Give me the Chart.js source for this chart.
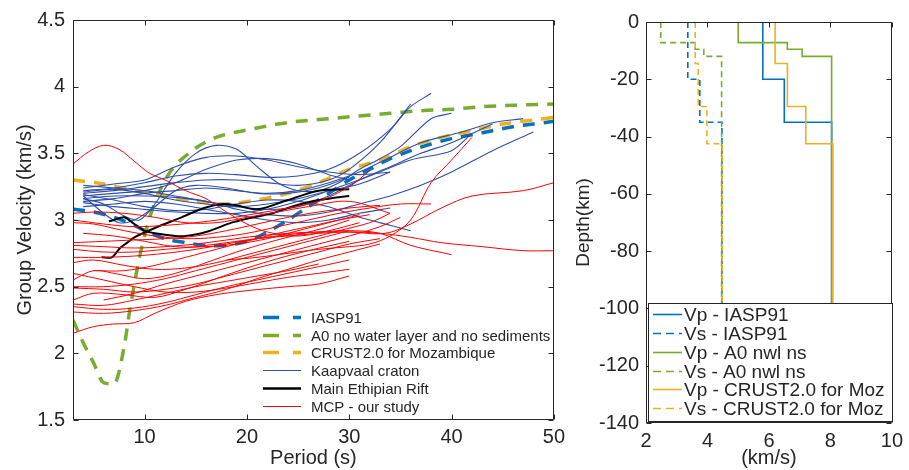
<!DOCTYPE html>
<html>
<head>
<meta charset="utf-8">
<script src="https://cdn.jsdelivr.net/npm/chart.js@4.4.1/dist/chart.umd.min.js"></script>
<style>
html, body { margin: 0; padding: 0; background: #fff; }
#wrap { position: relative; width: 909px; height: 470px; }
#left { position: absolute; left: 0; top: 0; }
#right { position: absolute; left: 570px; top: 0; }
</style>
</head>
<body>
<div id="wrap">
<canvas id="left" width="570" height="470"></canvas>
<canvas id="right" width="339" height="470"></canvas>
</div>
<script>
// ---- left panel : group velocity dispersion ----
const periodTicks = [10, 20, 30, 40, 50]
const velTicks = [1.5, 2, 2.5, 3, 3.5, 4, 4.5]

const iaspP = [3, 5, 7, 9, 10, 12, 14, 16, 18, 20, 22, 24, 26, 28, 30, 32, 34, 36, 38, 40, 42, 44, 46, 48, 50]
const iaspV = [3.08, 3.06, 3.02, 2.96, 2.92, 2.86, 2.83, 2.81, 2.81, 2.84, 2.91, 3.00, 3.10, 3.20, 3.30, 3.38, 3.46, 3.52, 3.57, 3.61, 3.64, 3.67, 3.70, 3.72, 3.74]

const a0P = [3, 4, 5, 6, 7, 8, 8.5, 9, 9.5, 10, 10.5, 11, 12, 13, 14, 15, 17, 19, 21, 23, 25, 28, 31, 34, 37, 40, 43, 46, 50]
const a0V = [2.25, 2.08, 1.93, 1.78, 1.77, 2.05, 2.30, 2.52, 2.72, 2.88, 3.02, 3.13, 3.30, 3.41, 3.48, 3.54, 3.62, 3.66, 3.69, 3.72, 3.74, 3.76, 3.78, 3.80, 3.82, 3.83, 3.85, 3.86, 3.87]

const crustP = [3, 6, 9, 12, 15, 18, 21, 24, 27, 30, 33, 36, 39, 42, 45, 48, 50]
const crustV = [3.30, 3.27, 3.22, 3.18, 3.14, 3.12, 3.15, 3.20, 3.28, 3.38, 3.45, 3.55, 3.62, 3.67, 3.72, 3.75, 3.77]

// Kaapvaal craton curves, [period, velocity]
const kaapvaal = [
    [[4, 3.22], [7, 3.24], [10, 3.28], [13, 3.33], [16, 3.35], [19, 3.34], [22, 3.32], [25, 3.33], [28, 3.38], [31, 3.50], [34, 3.68], [36, 3.85], [38, 3.95]],
    [[4, 3.20], [7, 3.22], [10, 3.25], [13, 3.28], [16, 3.30], [19, 3.30], [22, 3.28], [25, 3.26], [28, 3.30], [30, 3.38], [33, 3.58], [36, 3.87]],
    [[4, 3.16], [6, 3.12], [8, 3.03], [9.5, 3.00], [11, 3.12], [13, 3.35], [15, 3.50], [17, 3.56], [19, 3.53], [21, 3.40], [23, 3.28], [25, 3.22], [27, 3.22], [29, 3.28], [31, 3.38], [33, 3.46], [35, 3.55], [38, 3.76], [40, 3.80]],
    [[4, 3.24], [7, 3.27], [10, 3.30], [13, 3.40], [16, 3.47], [19, 3.48], [22, 3.45], [25, 3.40], [28, 3.36], [31, 3.34], [34, 3.36]],
    [[4, 3.18], [7, 3.20], [10, 3.22], [13, 3.28], [16, 3.38], [19, 3.45], [22, 3.46], [25, 3.42], [28, 3.34], [30, 3.30]],
    [[4, 3.14], [7, 3.16], [10, 3.20], [13, 3.22], [16, 3.24], [19, 3.22], [22, 3.20], [25, 3.22], [28, 3.28], [31, 3.36], [34, 3.47], [37, 3.58], [41, 3.66], [44, 3.73], [47, 3.76]],
    [[4, 3.16], [7, 3.18], [10, 3.18], [13, 3.17], [16, 3.14], [19, 3.10], [22, 3.08], [25, 3.10], [28, 3.18], [31, 3.30], [34, 3.40], [37, 3.50], [40, 3.58], [44, 3.72]],
    [[4, 3.21], [7, 3.23], [10, 3.20], [13, 3.15], [16, 3.12], [19, 3.10], [22, 3.12], [25, 3.16], [28, 3.22], [31, 3.27], [34, 3.36]],
    [[4, 3.13], [7, 3.10], [10, 3.08], [13, 3.06], [16, 3.05], [19, 3.05], [22, 3.08], [25, 3.14], [28, 3.22], [32, 3.33], [36, 3.45], [40, 3.52], [42, 3.65]],
    [[4, 3.19], [7, 3.15], [10, 3.10], [13, 3.07], [16, 3.08], [19, 3.12], [22, 3.15], [25, 3.14], [28, 3.10], [31, 3.02], [34, 2.96], [36, 2.92]],
    [[4, 3.26], [7, 3.24], [10, 3.22], [13, 3.18], [16, 3.14], [19, 3.08], [22, 3.04], [25, 3.03], [28, 3.06], [31, 3.12], [34, 3.18], [37, 3.26], [40, 3.36], [44, 3.52], [48, 3.66]],
    [[4, 3.18], [6, 3.05], [7.5, 2.98], [9, 3.00], [11, 3.10], [13, 3.22], [15, 3.26], [18, 3.24], [21, 3.20], [24, 3.20], [27, 3.24], [30, 3.32]],
    [[4, 3.10], [7, 3.12], [10, 3.14], [13, 3.12], [16, 3.08], [19, 3.04], [22, 3.00], [25, 2.98], [28, 3.00], [31, 3.05], [34, 3.09]]
]

// Main Ethiopian Rift
const mer = [
    [[6.5, 2.99], [7, 3.00], [8, 3.02], [9, 2.97], [10, 2.92], [11, 2.90], [13, 2.88], [14, 2.88], [16, 2.91], [18.5, 2.98], [20, 3.01], [22.5, 3.05], [24, 3.09], [26.4, 3.14], [28, 3.16], [30, 3.18]],
    [[5.8, 2.72], [6.8, 2.72], [7.6, 2.79], [8.3, 2.83], [9, 2.87], [11, 2.94], [13.6, 3.02], [15.8, 3.09], [17.7, 3.12], [19, 3.11], [21, 3.08], [24, 3.15], [27, 3.22], [30, 3.23]]
]

// MCP - our study
const mcp = [
    [[3, 3.42], [4.5, 3.51], [6, 3.56], [7.5, 3.53], [9, 3.44], [10.5, 3.35], [12, 3.30], [14, 3.22], [16, 3.16], [18, 3.06], [20, 2.97], [22, 2.91], [25, 2.88], [28, 2.92], [31, 2.98]],
    [[3, 3.05], [5, 3.06], [8, 3.05], [11, 3.02], [14, 2.98], [17, 2.98], [20, 3.02], [23, 3.06], [26, 3.10], [30, 3.14], [34, 3.05]],
    [[3, 3.00], [6, 2.97], [9, 2.95], [12, 2.96], [15, 2.98], [18, 3.01], [21, 3.05], [24, 3.09], [27, 3.14], [30, 3.25], [32, 3.37]],
    [[3, 2.98], [5, 2.97], [8, 2.92], [11, 2.88], [14, 2.86], [17, 2.87], [20, 2.90], [23, 2.95], [26, 3.00], [29, 3.05], [32, 3.09], [35, 3.12], [38, 3.12]],
    [[3, 2.83], [6, 2.84], [9, 2.85], [12, 2.86], [15, 2.88], [18, 2.92], [21, 2.97], [24, 3.02], [27, 3.06], [30, 3.09], [33, 3.11]],
    [[3, 2.81], [6, 2.80], [9, 2.79], [12, 2.80], [15, 2.82], [18, 2.85], [21, 2.88], [24, 2.90], [27, 2.91], [30, 2.91], [33.5, 2.90], [36, 2.97], [39, 3.09], [42, 3.18], [47, 3.22], [50, 3.28]],
    [[3, 2.78], [6, 2.76], [9, 2.76], [12, 2.78], [15, 2.80], [18, 2.83], [21, 2.86], [24, 2.88], [27, 2.90], [30, 2.91], [33, 2.90], [36, 2.87], [39, 2.83], [43, 2.80], [47, 2.77], [50, 2.77]],
    [[3, 2.72], [6, 2.72], [9, 2.73], [12, 2.75], [15, 2.78], [18, 2.82], [21, 2.86], [24, 2.89], [27, 2.91], [30, 2.92], [33, 2.90], [36, 2.81], [40, 2.74]],
    [[3, 2.68], [5, 2.70], [8, 2.66], [11, 2.63], [14, 2.64], [17, 2.68], [20, 2.74], [23, 2.80], [26, 2.86], [29, 2.92], [32, 2.98], [34, 3.05]],
    [[3, 2.55], [5, 2.62], [7, 2.60], [10, 2.56], [13, 2.60], [16, 2.68], [19, 2.76], [22, 2.83], [25, 2.89], [28, 2.95], [30, 3.00]],
    [[3, 2.50], [6, 2.50], [9, 2.52], [12, 2.56], [15, 2.62], [18, 2.68], [21, 2.74], [24, 2.80], [27, 2.86], [30, 2.92]],
    [[3, 2.49], [6, 2.48], [9, 2.46], [12, 2.48], [15, 2.52], [18, 2.58], [21, 2.64], [24, 2.70], [27, 2.76], [30, 2.82], [33, 2.86]],
    [[3, 2.40], [5, 2.45], [8, 2.44], [11, 2.42], [14, 2.48], [17, 2.56], [20, 2.64], [23, 2.71], [26, 2.77], [30, 2.84]],
    [[3, 2.37], [6, 2.36], [9, 2.40], [12, 2.45], [15, 2.50], [18, 2.54], [21, 2.58], [24, 2.62], [27, 2.67]],
    [[3, 2.35], [6, 2.33], [9, 2.34], [12, 2.38], [15, 2.44], [18, 2.50], [21, 2.55], [24, 2.60], [27, 2.65], [30, 2.70]],
    [[3, 2.31], [6, 2.30], [9, 2.32], [12, 2.36], [15, 2.42], [18, 2.48], [21, 2.56], [24, 2.63], [27, 2.70], [30, 2.76], [33, 2.82]],
    [[3, 2.15], [5, 2.20], [7, 2.22], [9, 2.23], [11, 2.30], [14, 2.39], [17, 2.44], [20, 2.47], [24, 2.50], [27, 2.52], [30, 2.58]],
    [[5, 2.62], [8, 2.62], [11, 2.66], [14, 2.72], [17, 2.78], [20, 2.84], [23, 2.90], [26, 2.95], [29, 3.00], [32, 3.04]],
    [[6, 2.40], [9, 2.45], [12, 2.52], [15, 2.58], [18, 2.64], [21, 2.70], [24, 2.76], [27, 2.82], [30, 2.88], [33, 2.95], [35, 3.02]],
    [[18, 2.70], [21, 2.72], [24, 2.75], [27, 2.78], [30, 2.80], [32, 2.82], [34, 2.88], [36, 3.00], [38, 3.28], [40, 3.45], [42, 3.62]],
    [[4, 2.90], [7, 2.88], [10, 2.84], [13, 2.80], [16, 2.80], [19, 2.82], [22, 2.86], [25, 2.92], [28, 2.98], [31, 3.04]],
    [[3, 2.60], [6, 2.55], [9, 2.50], [12, 2.46], [15, 2.46], [18, 2.49], [21, 2.53], [24, 2.57], [27, 2.60], [30, 2.63]]
]

// ---- right panel : velocity models (depth in km, velocity in km/s) ----
const depthTicks = [-140, -120, -100, -80, -60, -40, -20, 0]
const kmsTicks = [2, 4, 6, 8, 10]

const iaspDepth = [0, 20, 35, 140]
const iaspVp = [5.8, 6.5, 8.04]
const iaspVs = [3.36, 3.75, 4.47]

const a0Depth = [0, 7.2, 9.5, 12, 140]
const a0Vp = [5.0, 6.6, 7.08, 8.04]
const a0Vs = [2.48, 3.6, 3.88, 4.46]

const crustDepth = [0, 14.5, 29.5, 42.5, 140]
const crustVp = [6.2, 6.6, 7.2, 8.08]
const crustVs = [3.6, 3.7, 3.98, 4.48]

const blue = '#0072BD'
const green = '#77AC30'
const orange = '#EDB120'
const kaapColor = '#2F4FA8'
const red = '#FF0000'
const axisColor = '#262626'

Chart.defaults.font.family = '"Liberation Sans", Arial, Helvetica, sans-serif'
Chart.defaults.color = axisColor

const toPts = (xs, ys) => xs.map((x, i) => ({ x: x, y: ys[i] }))
const pairPts = arr => arr.map(p => ({ x: p[0], y: p[1] }))

function steps(depths, vel) {
    const pts = []
    vel.forEach((v, i) => {
        pts.push({ x: v, y: -depths[i] })
        pts.push({ x: v, y: -depths[i + 1] })
    })
    return pts
}

// box + inward ticks like matlab axes
const matlabBox = {
    id: 'matlabBox',
    afterDatasetsDraw(chart) {
        const { ctx, chartArea: a, scales } = chart
        ctx.save()
        ctx.strokeStyle = axisColor
        ctx.lineWidth = 1
        ctx.beginPath()
        const L = Math.round(a.left) + 0.5, R = Math.round(a.right) - 0.5
        const T = Math.round(a.top) + 0.5, B = Math.round(a.bottom) - 0.5
        ctx.rect(L, T, R - L, B - T)
        scales.x.ticks.forEach(t => {
            const px = Math.round(scales.x.getPixelForValue(t.value)) + 0.5
            ctx.moveTo(px, B); ctx.lineTo(px, B - 5)
            ctx.moveTo(px, T); ctx.lineTo(px, T + 5)
        })
        scales.y.ticks.forEach(t => {
            const py = Math.round(scales.y.getPixelForValue(t.value)) + 0.5
            ctx.moveTo(L, py); ctx.lineTo(L + 5, py)
            ctx.moveTo(R, py); ctx.lineTo(R - 5, py)
        })
        ctx.stroke()
        ctx.restore()
    }
}

// legend drawn inside the plot area
const inLegend = {
    id: 'inLegend',
    afterDraw(chart, args, opts) {
        const ctx = chart.ctx
        ctx.save()
        if (opts.box) {
            const b = opts.box
            ctx.fillStyle = '#fff'
            ctx.fillRect(b[0], b[1], b[2] - b[0], b[3] - b[1])
            ctx.strokeStyle = axisColor
            ctx.lineWidth = 1
            ctx.strokeRect(b[0] + 0.5, b[1] + 0.5, b[2] - b[0], b[3] - b[1])
        }
        ctx.font = opts.fontSize + 'px ' + Chart.defaults.font.family
        ctx.textBaseline = 'middle'
        opts.entries.forEach((e, i) => {
            const y = Math.round(opts.y + i * opts.rowH) + 0.5
            ctx.strokeStyle = e.color
            ctx.lineWidth = e.width
            ctx.setLineDash(e.dash || [])
            ctx.beginPath()
            ctx.moveTo(opts.x0, y)
            ctx.lineTo(opts.x1, y)
            ctx.stroke()
            ctx.setLineDash([])
            ctx.fillStyle = axisColor
            ctx.fillText(e.label, opts.tx, y + 1)
        })
        ctx.restore()
    }
}

// ---- left chart datasets ----
const leftSets = []
const thickDash = [12, 9]
leftSets.push({ data: toPts(iaspP, iaspV), borderColor: blue, borderWidth: 3.5, borderDash: thickDash, tension: 0.3 })
leftSets.push({ data: toPts(a0P, a0V), borderColor: green, borderWidth: 3.5, borderDash: thickDash, cubicInterpolationMode: 'monotone' })
leftSets.push({ data: toPts(crustP, crustV), borderColor: orange, borderWidth: 3.5, borderDash: thickDash, tension: 0.3 })
kaapvaal.forEach(c => leftSets.push({ data: pairPts(c), borderColor: kaapColor, borderWidth: 1.1, tension: 0.3 }))
mer.forEach(c => leftSets.push({ data: pairPts(c), borderColor: '#000', borderWidth: 2, tension: 0.3 }))
mcp.forEach(c => leftSets.push({ data: pairPts(c), borderColor: red, borderWidth: 1, tension: 0.35 }))
// later datasets on top
leftSets.forEach((d, i) => { d.order = leftSets.length - i; d.pointRadius = 0; d.fill = false })

new Chart(document.getElementById('left'), {
    type: 'line',
    data: { datasets: leftSets },
    options: {
        responsive: false,
        animation: false,
        layout: { padding: { top: 19, right: 11, left: 0, bottom: 0 } },
        plugins: {
            legend: { display: false },
            tooltip: { enabled: false },
            inLegend: {
                x0: 263, x1: 301, tx: 311, y: 317, rowH: 17.7, fontSize: 15,
                entries: [
                    { label: 'IASP91', color: blue, width: 3.5, dash: [16, 14] },
                    { label: 'A0 no water layer and no sediments', color: green, width: 3.5, dash: [16, 14] },
                    { label: 'CRUST2.0 for Mozambique', color: orange, width: 3.5, dash: [16, 14] },
                    { label: 'Kaapvaal craton', color: kaapColor, width: 1.2 },
                    { label: 'Main Ethipian Rift', color: '#000', width: 2.5 },
                    { label: 'MCP - our study', color: red, width: 1.2 }
                ]
            }
        },
        scales: {
            x: {
                type: 'linear', min: 3, max: 50,
                afterBuildTicks: s => { s.ticks = periodTicks.map(v => ({ value: v })) },
                afterFit: s => { s.height = 50 },
                grid: { drawOnChartArea: false, drawTicks: false },
                border: { display: false },
                ticks: { font: { size: 20 }, padding: 5, maxRotation: 0, color: axisColor },
                title: { display: true, text: 'Period (s)', font: { size: 20 }, color: axisColor, padding: { top: 0, bottom: 0 } }
            },
            y: {
                type: 'linear', min: 1.5, max: 4.5,
                afterBuildTicks: s => { s.ticks = velTicks.map(v => ({ value: v })) },
                afterFit: s => { s.width = 73 },
                grid: { drawOnChartArea: false, drawTicks: false },
                border: { display: false },
                ticks: { font: { size: 20 }, padding: 8, color: axisColor, callback: v => String(v) },
                title: { display: true, text: 'Group Velocity (km/s)', font: { size: 20 }, color: axisColor, padding: { top: 13, bottom: 0 } }
            }
        }
    },
    plugins: [matlabBox, inLegend]
})

// ---- right chart ----
const thinDash = [6, 4]
const rightSets = [
    { data: steps(iaspDepth, iaspVp), borderColor: blue },
    { data: steps(iaspDepth, iaspVs), borderColor: blue, borderDash: thinDash },
    { data: steps(a0Depth, a0Vp), borderColor: green },
    { data: steps(a0Depth, a0Vs), borderColor: green, borderDash: thinDash },
    { data: steps(crustDepth, crustVp), borderColor: orange },
    { data: steps(crustDepth, crustVs), borderColor: orange, borderDash: thinDash }
]
rightSets.forEach((d, i) => { d.order = rightSets.length - i; d.pointRadius = 0; d.borderWidth = 1.6; d.tension = 0; d.fill = false })

new Chart(document.getElementById('right'), {
    type: 'line',
    data: { datasets: rightSets },
    options: {
        responsive: false,
        animation: false,
        layout: { padding: { top: 22, right: 13, left: 0, bottom: 0 } },
        plugins: {
            legend: { display: false },
            tooltip: { enabled: false },
            inLegend: {
                box: [78, 303, 322, 421],
                x0: 83, x1: 112, tx: 114, y: 314, rowH: 18.85, fontSize: 19,
                entries: [
                    { label: 'Vp - IASP91', color: blue, width: 1.6 },
                    { label: 'Vs - IASP91', color: blue, width: 1.6, dash: [8, 5] },
                    { label: 'Vp - A0 nwl ns', color: green, width: 1.6 },
                    { label: 'Vs - A0 nwl ns', color: green, width: 1.6, dash: [8, 5] },
                    { label: 'Vp - CRUST2.0 for Moz', color: orange, width: 1.6 },
                    { label: 'Vs - CRUST2.0 for Moz', color: orange, width: 1.6, dash: [8, 5] }
                ]
            }
        },
        scales: {
            x: {
                type: 'linear', min: 2, max: 10,
                afterBuildTicks: s => { s.ticks = kmsTicks.map(v => ({ value: v })) },
                afterFit: s => { s.height = 47 },
                grid: { drawOnChartArea: false, drawTicks: false },
                border: { display: false },
                ticks: { font: { size: 20 }, padding: 6, maxRotation: 0, color: axisColor },
                title: { display: true, text: '(km/s)', font: { size: 20 }, color: axisColor, padding: { top: 0, bottom: 0 } }
            },
            y: {
                type: 'linear', min: -140, max: 0,
                afterBuildTicks: s => { s.ticks = depthTicks.map(v => ({ value: v })) },
                afterFit: s => { s.width = 76 },
                grid: { drawOnChartArea: false, drawTicks: false },
                border: { display: false },
                ticks: { font: { size: 20 }, padding: 7, color: axisColor },
                title: { display: true, text: 'Depth(km)', font: { size: 19 }, color: axisColor, padding: { top: 2, bottom: 0 } }
            }
        }
    },
    plugins: [matlabBox, inLegend]
})
</script>
</body>
</html>
